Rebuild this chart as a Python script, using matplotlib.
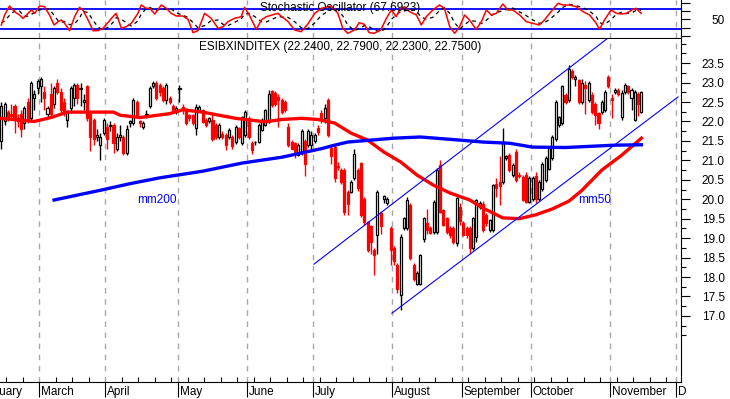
import numpy as np
import matplotlib
matplotlib.use('Agg')
import matplotlib.pyplot as plt

plt.rcParams['font.family'] = ['Liberation Sans', 'DejaVu Sans']
plt.rcParams['font.size'] = 8

# daily OHLC, one line per month (Feb tail .. Nov)
opens = [
    21.5, 22.0, 22.25, 22.2, 22.4, 22.1, 22.2, 21.95, 22.5, 22.1, 22.6, 22.85,
    22.9, 22.75, 22.2, 22.7, 22.45, 23.0, 22.75, 22.5, 22.05, 22.35, 22.6, 22.95, 22.84, 22.5, 22.9, 22.2, 22.05, 21.6, 21.4, 21.7,
    21.85, 21.88, 21.9, 21.3, 21.6, 21.6, 21.2, 21.95, 21.95, 22.5, 22.0, 21.85, 22.15, 22.4, 22.9, 23.0, 22.95, 22.85, 22.55, 22.6, 22.4, 22.3,
    22.84, 22.38, 22.29, 22.16, 22.16, 21.82, 22.3, 22.29, 22.03, 22.0, 22.03, 21.91, 21.61, 21.69, 21.65, 21.61, 21.61, 21.48, 21.82, 21.44, 21.65,
    22.1, 21.44, 21.46, 21.48, 21.78, 21.91, 21.99, 22.78, 22.74, 22.64, 22.55, 22.5, 21.87, 21.48, 21.44, 21.13, 21.2, 21.5, 21.4, 21.4,
    21.5, 21.82, 22.21, 22.08, 22.55, 21.31, 21.35, 20.86, 20.75, 20.75, 20.19, 20.19, 20.54, 20.75, 20.92, 20.0, 19.42, 19.3, 18.69, 19.08, 19.64, 20.0, 19.9, 19.25,
    18.75, 18.31, 17.53, 19.25, 19.25, 19.85, 18.31, 17.83, 17.83, 18.99, 19.4, 19.25, 19.16, 19.16, 20.88, 19.72, 19.51, 19.25, 19.25, 18.87, 19.8,
    19.38, 19.25, 19.25, 18.74, 19.03, 19.8, 19.89, 19.6, 19.2, 19.2, 20.4, 20.45, 20.45, 21.05, 21.13, 20.62, 21.22, 20.62, 20.58, 20.62, 19.93,
    20.0, 20.6, 20.0, 20.27, 20.5, 20.79, 21.05, 21.56, 21.91, 21.95, 22.68, 22.55, 23.3, 23.1, 23.06, 22.5, 22.93, 22.55, 22.68, 22.46, 22.21, 22.25, 22.29, 23.15,
    22.6, 22.75, 22.8, 22.12, 22.76, 22.9, 22.6, 22.05, 22.7, 22.24,
]
highs = [
    22.5, 22.5, 22.3, 22.45, 22.45, 22.2, 22.3, 22.4, 22.6, 23.05, 22.8, 23.1,
    23.15, 22.9, 22.4, 23.0, 22.9, 23.1, 22.85, 22.6, 22.3, 22.9, 23.0, 23.0, 23.0, 22.7, 22.95, 22.25, 22.1, 21.8, 21.7, 22.1,
    21.95, 22.0, 21.95, 21.7, 21.9, 21.65, 21.9, 22.05, 22.6, 22.55, 22.05, 22.0, 22.3, 22.9, 23.05, 23.05, 23.0, 22.9, 23.0, 22.65, 22.45, 22.4,
    22.93, 22.45, 22.35, 22.2, 22.2, 22.45, 22.42, 22.32, 22.08, 22.12, 22.2, 21.95, 21.95, 21.75, 21.7, 21.82, 21.65, 21.9, 21.85, 22.15, 22.3,
    22.15, 21.5, 21.5, 21.95, 22.08, 22.33, 22.8, 22.82, 22.78, 22.7, 22.6, 22.55, 21.95, 21.52, 21.48, 21.45, 21.8, 21.55, 21.8, 21.75,
    21.7, 21.9, 22.3, 22.45, 22.6, 21.4, 21.4, 20.95, 20.8, 20.8, 20.25, 20.5, 21.3, 20.8, 20.95, 20.05, 19.45, 19.35, 18.75, 20.25, 19.7, 20.12, 20.05, 19.3,
    18.8, 18.35, 19.1, 19.55, 20.05, 19.9, 18.35, 18.15, 18.6, 19.55, 19.76, 19.3, 19.97, 20.8, 21.0, 19.75, 19.55, 19.3, 19.3, 20.05, 19.9,
    19.45, 19.3, 19.3, 19.55, 20.0, 19.95, 19.95, 19.65, 19.5, 20.4, 20.55, 21.1, 21.82, 21.15, 21.2, 20.92, 21.3, 20.7, 20.62, 20.7, 20.6,
    20.6, 20.7, 20.5, 20.95, 21.1, 21.35, 21.65, 22.55, 22.15, 22.95, 22.72, 23.45, 23.35, 23.2, 23.1, 23.1, 23.05, 23.05, 22.75, 22.5, 22.25, 22.55, 22.8, 23.2,
    22.7, 22.85, 22.85, 22.8, 22.98, 22.95, 22.85, 22.8, 22.75, 22.79,
]
lows = [
    21.3, 21.9, 22.0, 22.1, 21.7, 21.85, 21.6, 21.8, 21.95, 22.0, 22.3, 22.7,
    22.5, 22.3, 22.1, 22.1, 22.35, 22.7, 22.2, 22.15, 21.85, 22.25, 22.4, 22.45, 22.4, 22.3, 22.0, 21.25, 21.4, 21.5, 21.0, 21.65,
    21.3, 21.75, 21.2, 21.25, 21.5, 21.15, 21.15, 21.85, 21.9, 22.1, 21.85, 21.8, 22.1, 22.35, 22.85, 22.55, 22.65, 22.5, 22.45, 22.45, 22.25, 22.2,
    22.51, 22.2, 21.9, 22.0, 21.9, 21.65, 22.25, 21.95, 21.85, 21.95, 21.5, 21.55, 21.55, 21.55, 21.26, 21.55, 21.3, 21.42, 21.55, 21.4, 21.6,
    21.55, 21.17, 21.4, 21.45, 21.75, 21.88, 21.95, 22.38, 22.4, 21.87, 22.2, 22.25, 21.35, 21.28, 21.05, 21.1, 21.15, 20.6, 21.35, 21.3,
    21.45, 21.65, 21.95, 21.95, 21.6, 20.9, 20.45, 20.75, 20.4, 19.6, 19.6, 20.15, 20.5, 20.2, 19.55, 19.35, 18.65, 18.6, 18.05, 18.6, 19.1, 19.9, 19.85, 18.3,
    18.3, 17.6, 17.15, 19.2, 19.2, 18.45, 17.9, 17.8, 17.8, 18.9, 19.1, 19.1, 19.1, 19.1, 19.65, 19.3, 19.1, 19.0, 18.85, 18.8, 19.35,
    19.05, 19.0, 18.6, 18.7, 18.9, 19.75, 19.15, 19.3, 19.15, 19.15, 20.05, 19.85, 20.4, 21.0, 20.7, 20.58, 20.45, 20.55, 19.95, 19.9, 19.9,
    19.95, 19.9, 19.95, 20.2, 20.45, 20.75, 21.0, 21.5, 21.85, 21.9, 22.45, 22.5, 23.1, 22.9, 22.45, 22.45, 22.2, 22.5, 22.2, 21.9, 21.8, 22.2, 22.25, 22.85,
    22.1, 22.7, 22.65, 22.05, 22.7, 22.7, 22.3, 22.0, 22.15, 22.23,
]
closes = [
    22.4, 22.45, 22.1, 22.15, 22.05, 22.0, 21.8, 22.35, 22.05, 23.0, 22.7, 23.05,
    23.1, 22.6, 22.35, 22.2, 22.85, 22.75, 22.3, 22.25, 22.25, 22.85, 22.95, 22.6, 22.86, 22.55, 22.1, 21.6, 21.55, 21.65, 21.6, 22.05,
    21.55, 21.9, 21.45, 21.6, 21.65, 21.2, 21.8, 22.0, 22.55, 22.15, 21.95, 21.95, 22.2, 22.85, 23.0, 22.6, 22.75, 22.55, 22.93, 22.5, 22.3, 22.35,
    22.86, 22.29, 21.95, 22.08, 21.95, 22.38, 22.38, 21.99, 21.91, 22.08, 21.56, 21.61, 21.91, 21.61, 21.39, 21.78, 21.37, 21.86, 21.61, 22.12, 22.25,
    21.61, 21.26, 21.48, 21.91, 22.03, 22.29, 22.7, 22.42, 22.46, 22.55, 22.25, 22.3, 21.39, 21.3, 21.22, 21.39, 21.75, 20.9, 21.75, 21.65,
    21.65, 21.72, 22.03, 22.34, 21.65, 21.1, 20.54, 20.84, 20.45, 19.68, 19.89, 20.45, 21.17, 20.28, 19.59, 19.42, 18.69, 18.91, 18.56, 20.19, 19.3, 20.08, 20.0, 18.69,
    18.4, 17.7, 19.04, 19.51, 19.98, 18.48, 17.96, 18.1, 18.56, 19.51, 19.2, 19.12, 19.93, 20.75, 19.68, 19.34, 19.16, 19.08, 18.91, 20.02, 19.45,
    19.08, 19.08, 18.74, 19.51, 19.97, 19.9, 19.2, 19.4, 19.46, 20.36, 20.3, 20.35, 21.44, 21.1, 20.75, 20.88, 20.49, 20.6, 19.97, 19.93, 20.55,
    20.55, 20.0, 20.45, 20.9, 21.05, 21.31, 21.61, 22.51, 22.12, 22.9, 22.51, 23.36, 23.15, 23.15, 22.51, 23.0, 22.85, 23.0, 22.25, 22.16, 21.95, 22.51, 22.76, 22.9,
    22.55, 22.8, 22.7, 22.72, 22.93, 22.75, 22.8, 22.75, 22.45, 22.75,
]

# moving averages (bar index -> value)
ma50_x = [0, 10, 15, 20, 25, 34, 36, 42, 51, 55, 61, 66, 71, 76, 80, 85, 91, 96,
          101, 106, 111, 116, 121, 126, 131, 136, 142, 146, 152, 157, 162, 167,
          172, 176, 182, 188, 194]
ma50_v = [22.08, 22.0, 22.1, 22.24, 22.24, 22.24, 22.16, 22.1, 22.2, 22.3, 22.24,
          22.16, 22.08, 22.03, 21.99, 22.05, 22.08, 22.05, 21.96, 21.7, 21.52,
          21.21, 20.96, 20.62, 20.36, 20.16, 19.98, 19.77, 19.52, 19.5, 19.6,
          19.75, 19.95, 20.23, 20.75, 21.13, 21.57]
ma200_x = [16, 30, 39, 48, 61, 73, 85, 91, 97, 101, 105, 119, 127, 139, 146,
           154, 161, 171, 186, 194]
ma200_v = [19.98, 20.23, 20.4, 20.55, 20.72, 20.93, 21.08, 21.19, 21.3, 21.39,
           21.47, 21.57, 21.6, 21.52, 21.47, 21.44, 21.34, 21.33, 21.39, 21.4]

# trend channel
chan_up_x = [94.75, 183.8]
chan_up_y = [18.33, 24.14]
chan_lo_x = [118.4, 205.1]
chan_lo_y = [17.07, 22.63]

# stochastic oscillator %K / %D
stoch_x = [0, 1, 2.5, 4, 5.5, 6.6, 7.6, 9.1, 10.1, 11.6, 13.1, 14.6, 16, 17.2,
           18.2, 19.2, 20.7, 22.2, 23.7, 24.7, 26.3, 27.8, 29.3, 30.8, 32.3,
           33.8, 34.8, 36.4, 37.9, 39.4, 41.4, 42.4, 43.9, 45, 46.5, 48.5, 50,
           51.5, 53, 55, 56.6, 58.1, 59.6, 61.6, 63.6, 65.7, 67.2, 68.7, 70.7,
           72.7, 73.7, 75.3, 77.3, 78.8, 80.3, 83.8, 86.9, 88.9, 90.9, 92.9, 95,
           97, 100, 102, 103.5, 105, 107, 108.5, 110, 111.5, 113, 115, 116.7,
           118.2, 119.7, 120.7, 122.2, 123.7, 125.8, 127.3, 128.8, 130.8, 132.8,
           134.3, 135.9, 137.4, 138.9, 140.4, 141.9, 143.9, 145.5, 147, 148.5,
           150, 152, 153.5, 155, 157.1, 159.1, 161.1, 163.1, 164.6, 166.2,
           168.7, 170.2, 172.2, 174.2, 176.3, 178.3, 180.3, 181.3, 182.8, 184.8,
           186.4, 187.9, 189.4, 191.4, 192.4, 193.9]
stoch_k = [33, 63, 90, 73, 63, 53, 63, 78, 68, 90, 88, 63, 33, 43,
           48, 38, 16, 58, 86, 78, 48, 16, 16, 23, 40,
           58, 68, 23, 28, 38, 68, 93, 83, 83, 66, 93, 83,
           68, 60, 60, 50, 10, 16, 68, 53, 23, 28, 43, 53,
           58, 86, 60, 20, 48, 58, 68, 43, 18, 13, 36, 68,
           83, 90, 68, 23, 8, 18, 40, 35, 10, 8, 18, 53,
           78, 58, 78, 88, 73, 63, 33, 58, 78, 93,
           83, 28, 8, 28, 63, 48, 20, 43, 78, 63,
           68, 96, 78, 78, 63, 43, 38, 33, 48, 68,
           98, 93, 93, 88, 73, 63, 38, 20, 48, 78,
           68, 66, 68, 80, 83, 68]
stoch_d = [40, 45, 62, 75, 75, 63, 58, 65, 70, 78, 82, 80, 62, 46,
           41, 43, 34, 37, 53, 74, 70, 47, 27, 18, 26,
           40, 55, 50, 40, 30, 45, 66, 82, 86, 77, 80, 81,
           81, 70, 62, 56, 40, 25, 31, 46, 48, 35, 31, 41,
           51, 66, 68, 55, 43, 42, 58, 56, 43, 25, 22, 39,
           62, 80, 80, 60, 33, 16, 22, 31, 28, 18, 12, 26,
           50, 63, 71, 75, 80, 75, 56, 51, 56, 76,
           85, 68, 40, 21, 33, 46, 44, 37, 47, 61,
           70, 76, 81, 84, 72, 61, 48, 38, 40, 50,
           71, 86, 95, 91, 85, 75, 58, 40, 35, 49,
           65, 71, 67, 71, 77, 78]

# first trading day (bar index) of each month
month_starts = [-8, 12, 32, 54, 75, 95, 119, 140, 161, 185, 205]
month_names = ['February', 'March', 'April', 'May', 'June', 'July', 'August',
               'September', 'October', 'November', 'D']

opens = np.array(opens)
highs = np.array(highs)
lows = np.array(lows)
closes = np.array(closes)
x = np.arange(len(closes))

W, H = 730, 399
fig = plt.figure(figsize=(W / 100, H / 100), dpi=100)


def box(l, t, r, b):
    return [l / W, 1 - b / H, (r - l) / W, (b - t) / H]


ax_st = fig.add_axes(box(0, 0, 681, 38))
ax = fig.add_axes(box(0, 39, 681, 382))

XLIM = (-0.4, 206)
grid_kw = dict(color='#a8a8a8', linestyle=(0, (4, 4)), linewidth=1, zorder=0)
for m in month_starts[1:]:
    ax.axvline(m - 0.5, **grid_kw)
    ax_st.axvline(m - 0.5, **grid_kw)

# candles
up = closes >= opens
wick_col = np.where(up, 'black', 'red')
ax.vlines(x, lows, highs, colors=wick_col, linewidth=1, zorder=2)
body_lo = np.minimum(opens, closes)
body_h = np.maximum(np.abs(closes - opens), 0.02)
ax.bar(x[up], body_h[up], bottom=body_lo[up], width=0.62, facecolor='white',
       edgecolor='black', linewidth=0.9, zorder=3)
ax.bar(x[~up], body_h[~up], bottom=body_lo[~up], width=0.62, facecolor='red',
       edgecolor='red', linewidth=0.9, zorder=3)

# averages and channel
ax.plot(ma50_x, ma50_v, color='red', linewidth=2.4, zorder=4)
ax.plot(ma200_x, ma200_v, color='blue', linewidth=2.4, zorder=4)
ax.plot(chan_up_x, chan_up_y, color='blue', linewidth=0.8, zorder=5)
ax.plot(chan_lo_x, chan_lo_y, color='blue', linewidth=0.8, zorder=5)
ax.text(41.1, 19.98, 'mm200', color='blue', ha='left', va='center', fontsize=8.5)
ax.text(174.8, 19.97, 'mm50', color='blue', ha='left', va='center', fontsize=8.5)
ax.text(0.5, 0.977, 'ESIBXINDITEX (22.2400, 22.7900, 22.2300, 22.7500)',
        transform=ax.transAxes, ha='center', va='center', fontsize=8.5)

ax.set_xlim(*XLIM)
ax.set_ylim(15.30, 24.12)
ax.yaxis.tick_right()
ax.set_yticks(np.arange(17.0, 23.51, 0.5))
ax.set_yticklabels([f'{v:.1f}' for v in np.arange(17.0, 23.51, 0.5)])
ax.set_yticks(np.arange(16.5, 24.01, 0.25), minor=True)
ax.tick_params(axis='y', which='major', direction='out', length=6.5, width=0.8,
               pad=25, labelsize=8.5)
ax.tick_params(axis='y', which='minor', direction='out', length=3.5, width=0.8)
for lab in ax.get_yticklabels():
    lab.set_horizontalalignment('right')

ax.set_xticks([m - 0.5 for m in month_starts[1:]])
ax.set_xticklabels([])
ax.set_xticks(np.arange(1.5, 205, 5), minor=True)
ax.tick_params(axis='x', which='major', direction='out', length=11, width=0.8)
ax.tick_params(axis='x', which='minor', direction='in', length=3.5, width=0.8)
for m, name in zip(month_starts, month_names):
    ax.annotate(name, xy=(m - 0.5, 0), xycoords=('data', 'axes fraction'),
                xytext=(2, -10), textcoords='offset pixels', ha='left',
                va='center', fontsize=8.5, annotation_clip=False)

for side in ['left', 'top']:
    ax.spines[side].set_visible(False)
for side in ['right', 'bottom']:
    ax.spines[side].set_linewidth(0.8)

# stochastic panel
ax_st.axhline(80, color='blue', linewidth=1.3, zorder=1)
ax_st.axhline(20, color='blue', linewidth=1.3, zorder=1)
ax_st.plot(stoch_x, stoch_d, color='black', linewidth=0.9,
           linestyle=(0, (3, 3)), zorder=2)
ax_st.plot(stoch_x, stoch_k, color='red', linewidth=1.1, zorder=3)
ax_st.text(0.5, 0.79, 'Stochastic Oscillator (67.6923)', transform=ax_st.transAxes,
           ha='center', va='center', fontsize=8.5, zorder=4)
ax_st.set_xlim(*XLIM)
ax_st.set_ylim(-6, 108)
ax_st.set_xticks([])
ax_st.yaxis.tick_right()
ax_st.set_yticks([0, 25, 50, 75, 100])
ax_st.set_yticklabels(['', '', '50', '', ''])
ax_st.tick_params(axis='y', direction='out', length=6.5, width=0.8, pad=25,
                  labelsize=8.5)
for lab in ax_st.get_yticklabels():
    lab.set_horizontalalignment('right')
for side in ['left', 'top']:
    ax_st.spines[side].set_visible(False)
for side in ['right', 'bottom']:
    ax_st.spines[side].set_linewidth(0.8)

fig.savefig('out.png', dpi=100)
